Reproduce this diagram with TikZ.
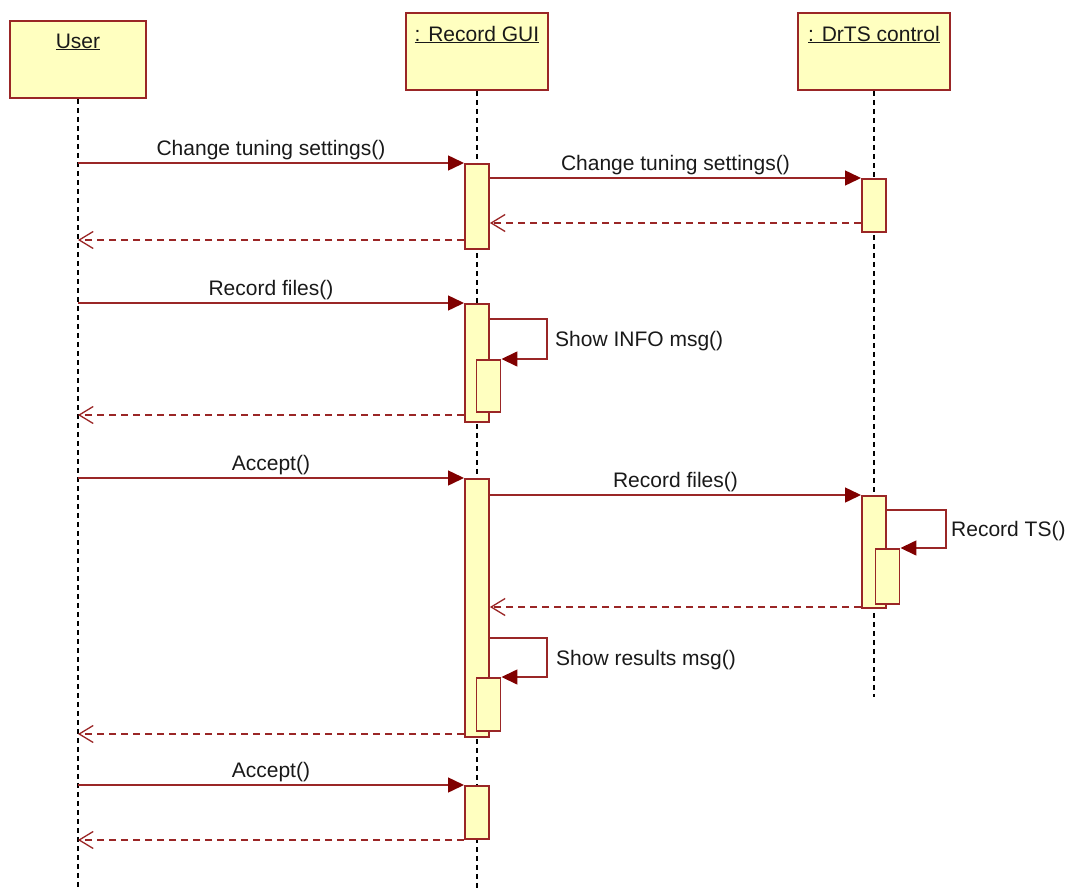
\documentclass[tikz,border=0pt]{standalone}
\usepackage{fontspec}
\setmainfont{Liberation Sans}
\usetikzlibrary{arrows.meta,calc}
\definecolor{bord}{HTML}{9A2626}
\definecolor{fillc}{HTML}{FFFFC0}
\definecolor{head}{HTML}{800000}
\begin{document}
\begin{tikzpicture}[x=1pt,y=-1pt,
 every node/.style={font=\fontsize{21}{25}\selectfont},
 obj/.style={draw=bord, fill=fillc, line width=1.9pt, inner sep=0pt, anchor=north west},
 act/.style={draw=bord, fill=fillc, line width=1.9pt, inner sep=0pt, minimum width=24pt, anchor=north},
 life/.style={black, line width=1.5pt, dash pattern=on 5pt off 4pt},
 msg/.style={draw=bord, line width=1.5pt, -{Triangle[length=16pt,width=15pt,fill=head,color=head]}},
 ret/.style={draw=bord, line width=1.5pt, dash pattern=on 7pt off 5pt, -{Straight Barb[length=14pt,width=17pt,line width=1.3pt]}},
 lbl/.style={inner sep=0pt, text=black!90},
 mlbl/.style={lbl, midway, anchor=base, yshift=8pt}]
\useasboundingbox (0,0) rectangle (1066,889);

% objects
\node[obj, minimum width=136pt, minimum height=77pt] (user) at (9,20) {};
\node[obj, minimum width=142pt, minimum height=77pt] (gui) at (405,12) {};
\node[obj, minimum width=152pt, minimum height=77pt] (drts) at (797,12) {};
\node[lbl, anchor=base] (userT) at (user.north |- 0,48) {\underline{User}};
\node[lbl, anchor=base] (guiT) at (gui.north |- 0,41) {\underline{\mbox{: Record GUI}}};
\node[lbl, anchor=base] (drtsT) at (drts.north |- 0,41) {\underline{\mbox{: DrTS control}}};

% lifelines
\coordinate (userEnd) at (user.south |- 0,889);
\coordinate (guiEnd) at (gui.south |- 0,889);
\coordinate (drtsEnd) at (drts.south |- 0,697);
\draw[life] (user.south) -- (userEnd);
\draw[life] (gui.south) -- (guiEnd);
\draw[life] (drts.south) -- (drtsEnd);

% activations
\node[act, minimum height=85pt] (a1) at (gui.south |- 0,163) {};
\node[act, minimum height=53pt] (d1) at (drts.south |- 0,178) {};
\node[act, minimum height=118pt] (a2) at (gui.south |- 0,303) {};
\node[act, minimum height=52pt] (n1) at (488.5,359) {};
\node[act, minimum height=258pt] (a3) at (gui.south |- 0,478) {};
\node[act, minimum height=112pt] (d2) at (drts.south |- 0,495) {};
\node[act, minimum height=55pt] (n2) at (887.5,548) {};
\node[act, minimum height=53pt] (n3) at (488.5,677) {};
\node[act, minimum height=53pt] (a4) at (gui.south |- 0,785) {};

% block 1
\draw[msg] (user.south |- a1.north) -- (a1.north west) node[mlbl] (m1) {Change tuning settings()};
\draw[msg] (a1.east |- d1.north) -- (d1.north west) node[mlbl] (m2) {Change tuning settings()};
\draw[ret] (d1.west |- 0,223) -- (a1.east |- 0,223);
\draw[ret] (a1.west |- 0,240) -- (user.south |- 0,240);

% block 2
\draw[msg] (user.south |- a2.north) -- (a2.north west) node[mlbl] (m3) {Record files()};
\draw[msg] (a2.east |- 0,319) -- (547,319) -- (547,359) -- (n1.north east);
\node[lbl, anchor=west] (m4) at (555,341) {Show INFO msg()};
\draw[ret] (a2.west |- 0,415) -- (user.south |- 0,415);

% block 3
\draw[msg] (user.south |- a3.north) -- (a3.north west) node[mlbl] (m5) {Accept()};
\draw[msg] (a3.east |- d2.north) -- (d2.north west) node[mlbl] (m6) {Record files()};
\draw[msg] (d2.east |- 0,510) -- (946,510) -- (946,548) -- (n2.north east);
\node[lbl, anchor=west] (m7) at (951,531) {Record TS()};
\draw[ret] (d2.west |- 0,607) -- (a3.east |- 0,607);
\draw[msg] (a3.east |- 0,638) -- (547,638) -- (547,677) -- (n3.north east);
\node[lbl, anchor=west] (m8) at (556,660) {Show results msg()};
\draw[ret] (a3.west |- 0,734) -- (user.south |- 0,734);

% block 4
\draw[msg] (user.south |- a4.north) -- (a4.north west) node[mlbl] (m9) {Accept()};
\draw[ret] (a4.west |- 0,840) -- (user.south |- 0,840);
\end{tikzpicture}
\end{document}
